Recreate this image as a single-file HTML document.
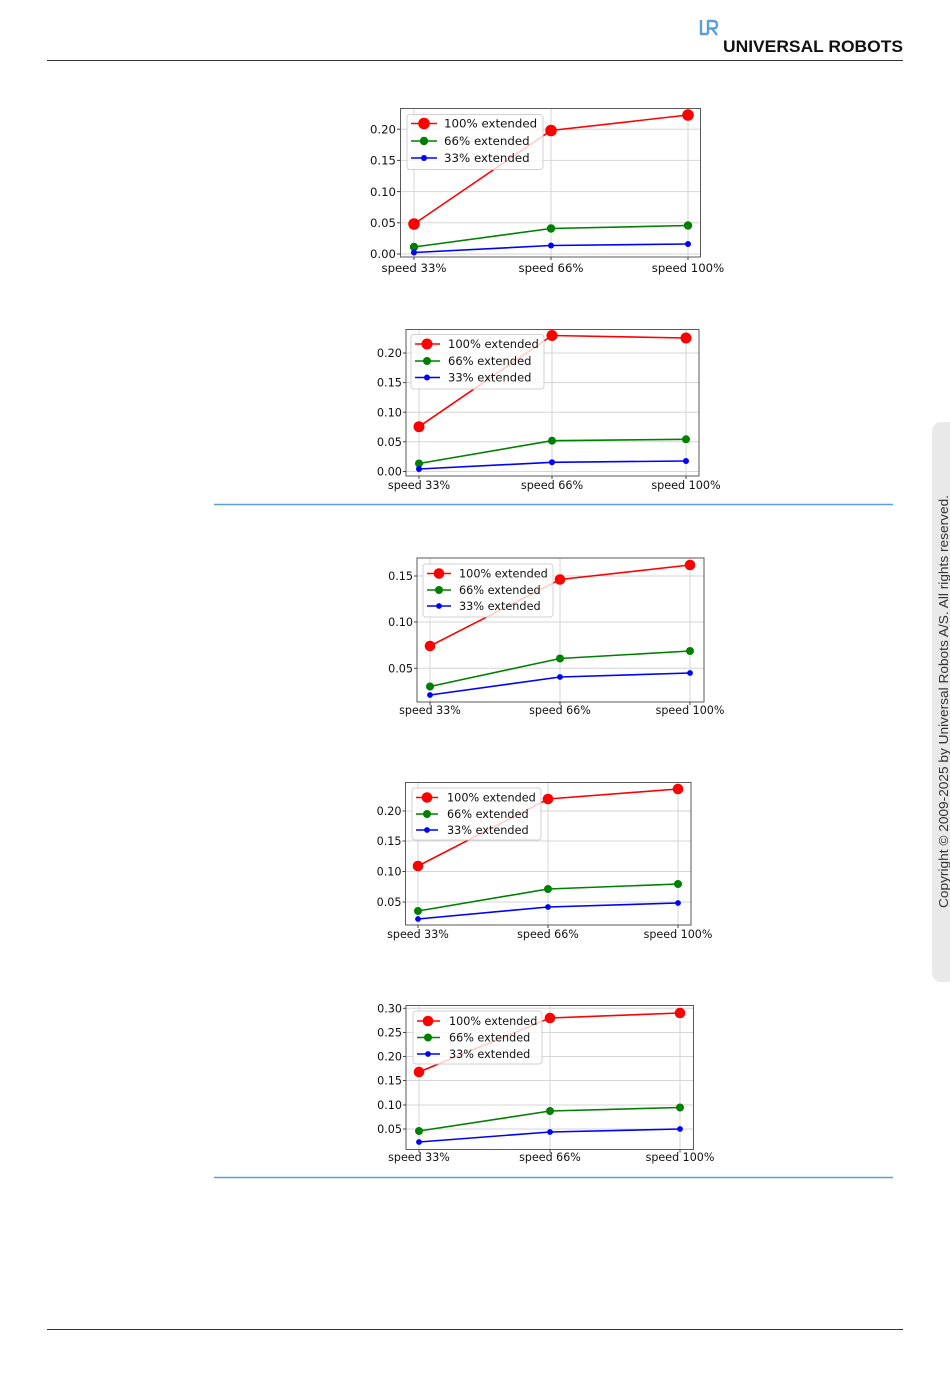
<!DOCTYPE html>
<html>
<head>
<meta charset="utf-8">
<style>
html,body{margin:0;padding:0;background:#fff;}
body{width:950px;height:1378px;overflow:hidden;position:relative;}
svg{position:absolute;left:0;top:0;}
.t{font-family:"DejaVu Sans","Liberation Sans",sans-serif;fill:#111;}
.grid line{stroke:#d6d6d6;stroke-width:1;}
.frame{fill:none;stroke:#5a5a5a;stroke-width:1;}
.tick{stroke:#444;stroke-width:1;}
.leg{fill:#fff;fill-opacity:0.8;stroke:#d0d0d0;stroke-width:1;}
</style>
</head>
<body>
<svg width="950" height="1378" viewBox="0 0 950 1378" xmlns="http://www.w3.org/2000/svg">
  <!-- Header -->
  <g>
    <rect x="700" y="19" width="18" height="18" fill="none"/>
    <path d="M701 20 L701 34 L708 34" fill="none" stroke="#5aa0d8" stroke-width="2.4"/>
    <path d="M708 20 L708 34 M708 21 L713 21 Q717 21 717 25 Q717 28.5 713 28.5 L709 28.5 M712 28.5 L717 35" fill="none" stroke="#5aa0d8" stroke-width="2.4"/>
    <text x="723" y="52" font-family="Liberation Sans, sans-serif" font-weight="bold" font-size="17" fill="#111" textLength="180" lengthAdjust="spacingAndGlyphs">UNIVERSAL ROBOTS</text>
  </g>
  <line x1="47" y1="60.5" x2="903" y2="60.5" stroke="#333" stroke-width="1"/>
  <line x1="47" y1="1329.5" x2="903" y2="1329.5" stroke="#333" stroke-width="1"/>

  <!-- Side tab -->
  <rect x="932" y="422" width="40" height="560" rx="9" ry="9" fill="#e9e9e9"/>
  <text transform="translate(948,701.5) rotate(-90)" text-anchor="middle" font-family="Liberation Sans, sans-serif" font-size="12.5" fill="#333" textLength="413" lengthAdjust="spacingAndGlyphs">Copyright © 2009-2025 by Universal Robots A/S. All rights reserved.</text>

  <!-- Separators -->
  <line x1="214" y1="504.5" x2="893" y2="504.5" stroke="#5b9fdc" stroke-width="1.5"/>
  <line x1="214" y1="1177.5" x2="893" y2="1177.5" stroke="#5b9fdc" stroke-width="1.5"/>

  <!-- ================= Chart 1 ================= -->
  <g>
    <g class="grid">
      <line x1="414" y1="108" x2="414" y2="257"/>
      <line x1="551" y1="108" x2="551" y2="257"/>
      <line x1="688" y1="108" x2="688" y2="257"/>
      <line x1="400" y1="254" x2="701" y2="254"/>
      <line x1="400" y1="222.8" x2="701" y2="222.8"/>
      <line x1="400" y1="191.6" x2="701" y2="191.6"/>
      <line x1="400" y1="160.4" x2="701" y2="160.4"/>
      <line x1="400" y1="129.2" x2="701" y2="129.2"/>
    </g>
    <rect class="frame" x="400.5" y="108.5" width="300" height="148.5"/>
    <g class="tick">
      <line x1="397" y1="254" x2="400" y2="254"/><line x1="397" y1="222.8" x2="400" y2="222.8"/>
      <line x1="397" y1="191.6" x2="400" y2="191.6"/><line x1="397" y1="160.4" x2="400" y2="160.4"/>
      <line x1="397" y1="129.2" x2="400" y2="129.2"/>
      <line x1="414" y1="257" x2="414" y2="260"/><line x1="551" y1="257" x2="551" y2="260"/><line x1="688" y1="257" x2="688" y2="260"/>
    </g>
    <g class="t" font-size="11.7" text-anchor="end">
      <text x="396" y="258.2">0.00</text>
      <text x="396" y="227">0.05</text>
      <text x="396" y="195.8">0.10</text>
      <text x="396" y="164.6">0.15</text>
      <text x="396" y="133.4">0.20</text>
    </g>
    <g class="t" font-size="11.7" text-anchor="middle">
      <text x="414" y="272">speed 33%</text>
      <text x="551" y="272">speed 66%</text>
      <text x="688" y="272">speed 100%</text>
    </g>
    <polyline points="414,224 551,130.5 688,115" fill="none" stroke="#ff0000" stroke-width="1.6"/>
    <polyline points="414,247 551,228.5 688,225.5" fill="none" stroke="#008000" stroke-width="1.6"/>
    <polyline points="414,252.5 551,245.5 688,244" fill="none" stroke="#0000ff" stroke-width="1.6"/>
    <rect class="leg" x="407" y="114.5" width="136" height="55" rx="3"/>
    <circle cx="414" cy="224" r="5.8" fill="#ff0000"/><circle cx="551" cy="130.5" r="5.8" fill="#ff0000"/><circle cx="688" cy="115" r="5.8" fill="#ff0000"/>
    <circle cx="414" cy="247" r="4.2" fill="#008000"/><circle cx="551" cy="228.5" r="4.2" fill="#008000"/><circle cx="688" cy="225.5" r="4.2" fill="#008000"/>
    <circle cx="414" cy="252.5" r="3" fill="#0000ff"/><circle cx="551" cy="245.5" r="3" fill="#0000ff"/><circle cx="688" cy="244" r="3" fill="#0000ff"/>
    <line x1="411" y1="123.5" x2="437" y2="123.5" stroke="#ff0000" stroke-width="1.6"/><circle cx="424" cy="123.5" r="5.8" fill="#ff0000"/>
    <line x1="411" y1="141" x2="437" y2="141" stroke="#008000" stroke-width="1.6"/><circle cx="424" cy="141" r="4.2" fill="#008000"/>
    <line x1="411" y1="158" x2="437" y2="158" stroke="#0000ff" stroke-width="1.6"/><circle cx="424" cy="158" r="3" fill="#0000ff"/>
    <g class="t" font-size="11.8">
      <text x="444" y="127.7">100% extended</text>
      <text x="444" y="145.2">66% extended</text>
      <text x="444" y="162.2">33% extended</text>
    </g>
  </g>

  <!-- ================= Chart 2 ================= -->
  <g>
    <g class="grid">
      <line x1="419" y1="329.5" x2="419" y2="476"/>
      <line x1="552" y1="329.5" x2="552" y2="476"/>
      <line x1="686" y1="329.5" x2="686" y2="476"/>
      <line x1="406" y1="471.5" x2="699" y2="471.5"/>
      <line x1="406" y1="441.8" x2="699" y2="441.8"/>
      <line x1="406" y1="412.2" x2="699" y2="412.2"/>
      <line x1="406" y1="382.6" x2="699" y2="382.6"/>
      <line x1="406" y1="353" x2="699" y2="353"/>
    </g>
    <rect class="frame" x="406" y="329.5" width="293" height="146.5"/>
    <g class="tick">
      <line x1="403" y1="471.5" x2="406" y2="471.5"/><line x1="403" y1="441.8" x2="406" y2="441.8"/>
      <line x1="403" y1="412.2" x2="406" y2="412.2"/><line x1="403" y1="382.6" x2="406" y2="382.6"/>
      <line x1="403" y1="353" x2="406" y2="353"/>
      <line x1="419" y1="476" x2="419" y2="479"/><line x1="552" y1="476" x2="552" y2="479"/><line x1="686" y1="476" x2="686" y2="479"/>
    </g>
    <g class="t" font-size="11.3" text-anchor="end">
      <text x="402" y="475.6">0.00</text>
      <text x="402" y="445.9">0.05</text>
      <text x="402" y="416.3">0.10</text>
      <text x="402" y="386.7">0.15</text>
      <text x="402" y="357.1">0.20</text>
    </g>
    <g class="t" font-size="11.2" text-anchor="middle">
      <text x="419" y="489">speed 33%</text>
      <text x="552" y="489">speed 66%</text>
      <text x="686" y="489">speed 100%</text>
    </g>
    <polyline points="419,426.7 552,335.5 686,338" fill="none" stroke="#ff0000" stroke-width="1.6"/>
    <polyline points="419,463.5 552,440.7 686,439.3" fill="none" stroke="#008000" stroke-width="1.6"/>
    <polyline points="419,469 552,462.3 686,461" fill="none" stroke="#0000ff" stroke-width="1.6"/>
    <rect class="leg" x="411" y="334.5" width="133" height="54.5" rx="3"/>
    <circle cx="419" cy="426.7" r="5.5" fill="#ff0000"/><circle cx="552" cy="335.5" r="5.5" fill="#ff0000"/><circle cx="686" cy="338" r="5.5" fill="#ff0000"/>
    <circle cx="419" cy="463.5" r="4" fill="#008000"/><circle cx="552" cy="440.7" r="4" fill="#008000"/><circle cx="686" cy="439.3" r="4" fill="#008000"/>
    <circle cx="419" cy="469" r="3" fill="#0000ff"/><circle cx="552" cy="462.3" r="3" fill="#0000ff"/><circle cx="686" cy="461" r="3" fill="#0000ff"/>
    <line x1="415" y1="344" x2="440" y2="344" stroke="#ff0000" stroke-width="1.6"/><circle cx="427" cy="344" r="5.5" fill="#ff0000"/>
    <line x1="415" y1="361" x2="440" y2="361" stroke="#008000" stroke-width="1.6"/><circle cx="427" cy="361" r="4" fill="#008000"/>
    <line x1="415" y1="377.5" x2="440" y2="377.5" stroke="#0000ff" stroke-width="1.6"/><circle cx="427" cy="377.5" r="3" fill="#0000ff"/>
    <g class="t" font-size="11.5">
      <text x="448" y="348.2">100% extended</text>
      <text x="448" y="365.2">66% extended</text>
      <text x="448" y="381.7">33% extended</text>
    </g>
  </g>

  <!-- ================= Chart 3 ================= -->
  <g>
    <g class="grid">
      <line x1="430" y1="558" x2="430" y2="702"/>
      <line x1="560" y1="558" x2="560" y2="702"/>
      <line x1="690" y1="558" x2="690" y2="702"/>
      <line x1="417" y1="668.3" x2="704" y2="668.3"/>
      <line x1="417" y1="622" x2="704" y2="622"/>
      <line x1="417" y1="576" x2="704" y2="576"/>
    </g>
    <rect class="frame" x="417" y="558" width="287" height="144"/>
    <g class="tick">
      <line x1="414" y1="668.3" x2="417" y2="668.3"/><line x1="414" y1="622" x2="417" y2="622"/><line x1="414" y1="576" x2="417" y2="576"/>
      <line x1="430" y1="702" x2="430" y2="705"/><line x1="560" y1="702" x2="560" y2="705"/><line x1="690" y1="702" x2="690" y2="705"/>
    </g>
    <g class="t" font-size="11.2" text-anchor="end">
      <text x="413" y="672.4">0.05</text>
      <text x="413" y="626.1">0.10</text>
      <text x="413" y="580.1">0.15</text>
    </g>
    <g class="t" font-size="11.1" text-anchor="middle">
      <text x="430" y="714">speed 33%</text>
      <text x="560" y="714">speed 66%</text>
      <text x="690" y="714">speed 100%</text>
    </g>
    <polyline points="430,646 560,579.5 690,565" fill="none" stroke="#ff0000" stroke-width="1.6"/>
    <polyline points="430,686.5 560,658.5 690,651" fill="none" stroke="#008000" stroke-width="1.6"/>
    <polyline points="430,695 560,677 690,673" fill="none" stroke="#0000ff" stroke-width="1.6"/>
    <rect class="leg" x="423" y="564" width="130" height="53" rx="3"/>
    <circle cx="430" cy="646" r="5.3" fill="#ff0000"/><circle cx="560" cy="579.5" r="5.3" fill="#ff0000"/><circle cx="690" cy="565" r="5.3" fill="#ff0000"/>
    <circle cx="430" cy="686.5" r="4" fill="#008000"/><circle cx="560" cy="658.5" r="4" fill="#008000"/><circle cx="690" cy="651" r="4" fill="#008000"/>
    <circle cx="430" cy="695" r="2.9" fill="#0000ff"/><circle cx="560" cy="677" r="2.9" fill="#0000ff"/><circle cx="690" cy="673" r="2.9" fill="#0000ff"/>
    <line x1="427" y1="573.5" x2="451" y2="573.5" stroke="#ff0000" stroke-width="1.6"/><circle cx="439" cy="573.5" r="5.3" fill="#ff0000"/>
    <line x1="427" y1="590" x2="451" y2="590" stroke="#008000" stroke-width="1.6"/><circle cx="439" cy="590" r="4" fill="#008000"/>
    <line x1="427" y1="606" x2="451" y2="606" stroke="#0000ff" stroke-width="1.6"/><circle cx="439" cy="606" r="2.9" fill="#0000ff"/>
    <g class="t" font-size="11.25">
      <text x="459" y="577.6">100% extended</text>
      <text x="459" y="594.1">66% extended</text>
      <text x="459" y="610.1">33% extended</text>
    </g>
  </g>

  <!-- ================= Chart 4 ================= -->
  <g>
    <g class="grid">
      <line x1="418" y1="782.5" x2="418" y2="925"/>
      <line x1="548" y1="782.5" x2="548" y2="925"/>
      <line x1="678" y1="782.5" x2="678" y2="925"/>
      <line x1="405.5" y1="902" x2="691" y2="902"/>
      <line x1="405.5" y1="871.5" x2="691" y2="871.5"/>
      <line x1="405.5" y1="841" x2="691" y2="841"/>
      <line x1="405.5" y1="811" x2="691" y2="811"/>
    </g>
    <rect class="frame" x="405.5" y="782.5" width="285.5" height="142.5"/>
    <g class="tick">
      <line x1="402.5" y1="902" x2="405.5" y2="902"/><line x1="402.5" y1="871.5" x2="405.5" y2="871.5"/>
      <line x1="402.5" y1="841" x2="405.5" y2="841"/><line x1="402.5" y1="811" x2="405.5" y2="811"/>
      <line x1="418" y1="925" x2="418" y2="928"/><line x1="548" y1="925" x2="548" y2="928"/><line x1="678" y1="925" x2="678" y2="928"/>
    </g>
    <g class="t" font-size="11.2" text-anchor="end">
      <text x="401.5" y="906.1">0.05</text>
      <text x="401.5" y="875.6">0.10</text>
      <text x="401.5" y="845.1">0.15</text>
      <text x="401.5" y="815.1">0.20</text>
    </g>
    <g class="t" font-size="11.1" text-anchor="middle">
      <text x="418" y="938">speed 33%</text>
      <text x="548" y="938">speed 66%</text>
      <text x="678" y="938">speed 100%</text>
    </g>
    <polyline points="418,866 548,799 678,789" fill="none" stroke="#ff0000" stroke-width="1.6"/>
    <polyline points="418,911 548,889 678,884" fill="none" stroke="#008000" stroke-width="1.6"/>
    <polyline points="418,919 548,907 678,903" fill="none" stroke="#0000ff" stroke-width="1.6"/>
    <rect class="leg" x="412" y="788" width="129" height="52" rx="3"/>
    <circle cx="418" cy="866" r="5.3" fill="#ff0000"/><circle cx="548" cy="799" r="5.3" fill="#ff0000"/><circle cx="678" cy="789" r="5.3" fill="#ff0000"/>
    <circle cx="418" cy="911" r="4" fill="#008000"/><circle cx="548" cy="889" r="4" fill="#008000"/><circle cx="678" cy="884" r="4" fill="#008000"/>
    <circle cx="418" cy="919" r="2.9" fill="#0000ff"/><circle cx="548" cy="907" r="2.9" fill="#0000ff"/><circle cx="678" cy="903" r="2.9" fill="#0000ff"/>
    <line x1="416" y1="797.5" x2="438" y2="797.5" stroke="#ff0000" stroke-width="1.6"/><circle cx="427" cy="797.5" r="5.3" fill="#ff0000"/>
    <line x1="416" y1="814" x2="438" y2="814" stroke="#008000" stroke-width="1.6"/><circle cx="427" cy="814" r="4" fill="#008000"/>
    <line x1="416" y1="830" x2="438" y2="830" stroke="#0000ff" stroke-width="1.6"/><circle cx="427" cy="830" r="2.9" fill="#0000ff"/>
    <g class="t" font-size="11.25">
      <text x="447" y="801.6">100% extended</text>
      <text x="447" y="818.1">66% extended</text>
      <text x="447" y="834.1">33% extended</text>
    </g>
  </g>

  <!-- ================= Chart 5 ================= -->
  <g>
    <g class="grid">
      <line x1="419" y1="1005.5" x2="419" y2="1149.5"/>
      <line x1="550" y1="1005.5" x2="550" y2="1149.5"/>
      <line x1="680" y1="1005.5" x2="680" y2="1149.5"/>
      <line x1="406" y1="1129" x2="693.5" y2="1129"/>
      <line x1="406" y1="1105" x2="693.5" y2="1105"/>
      <line x1="406" y1="1080.5" x2="693.5" y2="1080.5"/>
      <line x1="406" y1="1056.5" x2="693.5" y2="1056.5"/>
      <line x1="406" y1="1032.5" x2="693.5" y2="1032.5"/>
      <line x1="406" y1="1008.3" x2="693.5" y2="1008.3"/>
    </g>
    <rect class="frame" x="406" y="1005.5" width="287.5" height="144"/>
    <g class="tick">
      <line x1="403" y1="1129" x2="406" y2="1129"/><line x1="403" y1="1105" x2="406" y2="1105"/>
      <line x1="403" y1="1080.5" x2="406" y2="1080.5"/><line x1="403" y1="1056.5" x2="406" y2="1056.5"/>
      <line x1="403" y1="1032.5" x2="406" y2="1032.5"/><line x1="403" y1="1008.3" x2="406" y2="1008.3"/>
      <line x1="419" y1="1149.5" x2="419" y2="1152.5"/><line x1="550" y1="1149.5" x2="550" y2="1152.5"/><line x1="680" y1="1149.5" x2="680" y2="1152.5"/>
    </g>
    <g class="t" font-size="11.2" text-anchor="end">
      <text x="402" y="1133.1">0.05</text>
      <text x="402" y="1109.1">0.10</text>
      <text x="402" y="1084.6">0.15</text>
      <text x="402" y="1060.6">0.20</text>
      <text x="402" y="1036.6">0.25</text>
      <text x="402" y="1012.4">0.30</text>
    </g>
    <g class="t" font-size="11.1" text-anchor="middle">
      <text x="419" y="1161">speed 33%</text>
      <text x="550" y="1161">speed 66%</text>
      <text x="680" y="1161">speed 100%</text>
    </g>
    <polyline points="419,1072 550,1018 680,1013" fill="none" stroke="#ff0000" stroke-width="1.6"/>
    <polyline points="419,1131 550,1111 680,1107.5" fill="none" stroke="#008000" stroke-width="1.6"/>
    <polyline points="419,1142 550,1132 680,1129" fill="none" stroke="#0000ff" stroke-width="1.6"/>
    <rect class="leg" x="413" y="1011" width="129" height="53" rx="3"/>
    <circle cx="419" cy="1072" r="5.3" fill="#ff0000"/><circle cx="550" cy="1018" r="5.3" fill="#ff0000"/><circle cx="680" cy="1013" r="5.3" fill="#ff0000"/>
    <circle cx="419" cy="1131" r="4" fill="#008000"/><circle cx="550" cy="1111" r="4" fill="#008000"/><circle cx="680" cy="1107.5" r="4" fill="#008000"/>
    <circle cx="419" cy="1142" r="2.9" fill="#0000ff"/><circle cx="550" cy="1132" r="2.9" fill="#0000ff"/><circle cx="680" cy="1129" r="2.9" fill="#0000ff"/>
    <line x1="417" y1="1021" x2="440" y2="1021" stroke="#ff0000" stroke-width="1.6"/><circle cx="428" cy="1021" r="5.3" fill="#ff0000"/>
    <line x1="417" y1="1037.5" x2="440" y2="1037.5" stroke="#008000" stroke-width="1.6"/><circle cx="428" cy="1037.5" r="4" fill="#008000"/>
    <line x1="417" y1="1054" x2="440" y2="1054" stroke="#0000ff" stroke-width="1.6"/><circle cx="428" cy="1054" r="2.9" fill="#0000ff"/>
    <g class="t" font-size="11.2">
      <text x="449" y="1025.1">100% extended</text>
      <text x="449" y="1041.6">66% extended</text>
      <text x="449" y="1058.1">33% extended</text>
    </g>
  </g>
</svg>
</body>
</html>
